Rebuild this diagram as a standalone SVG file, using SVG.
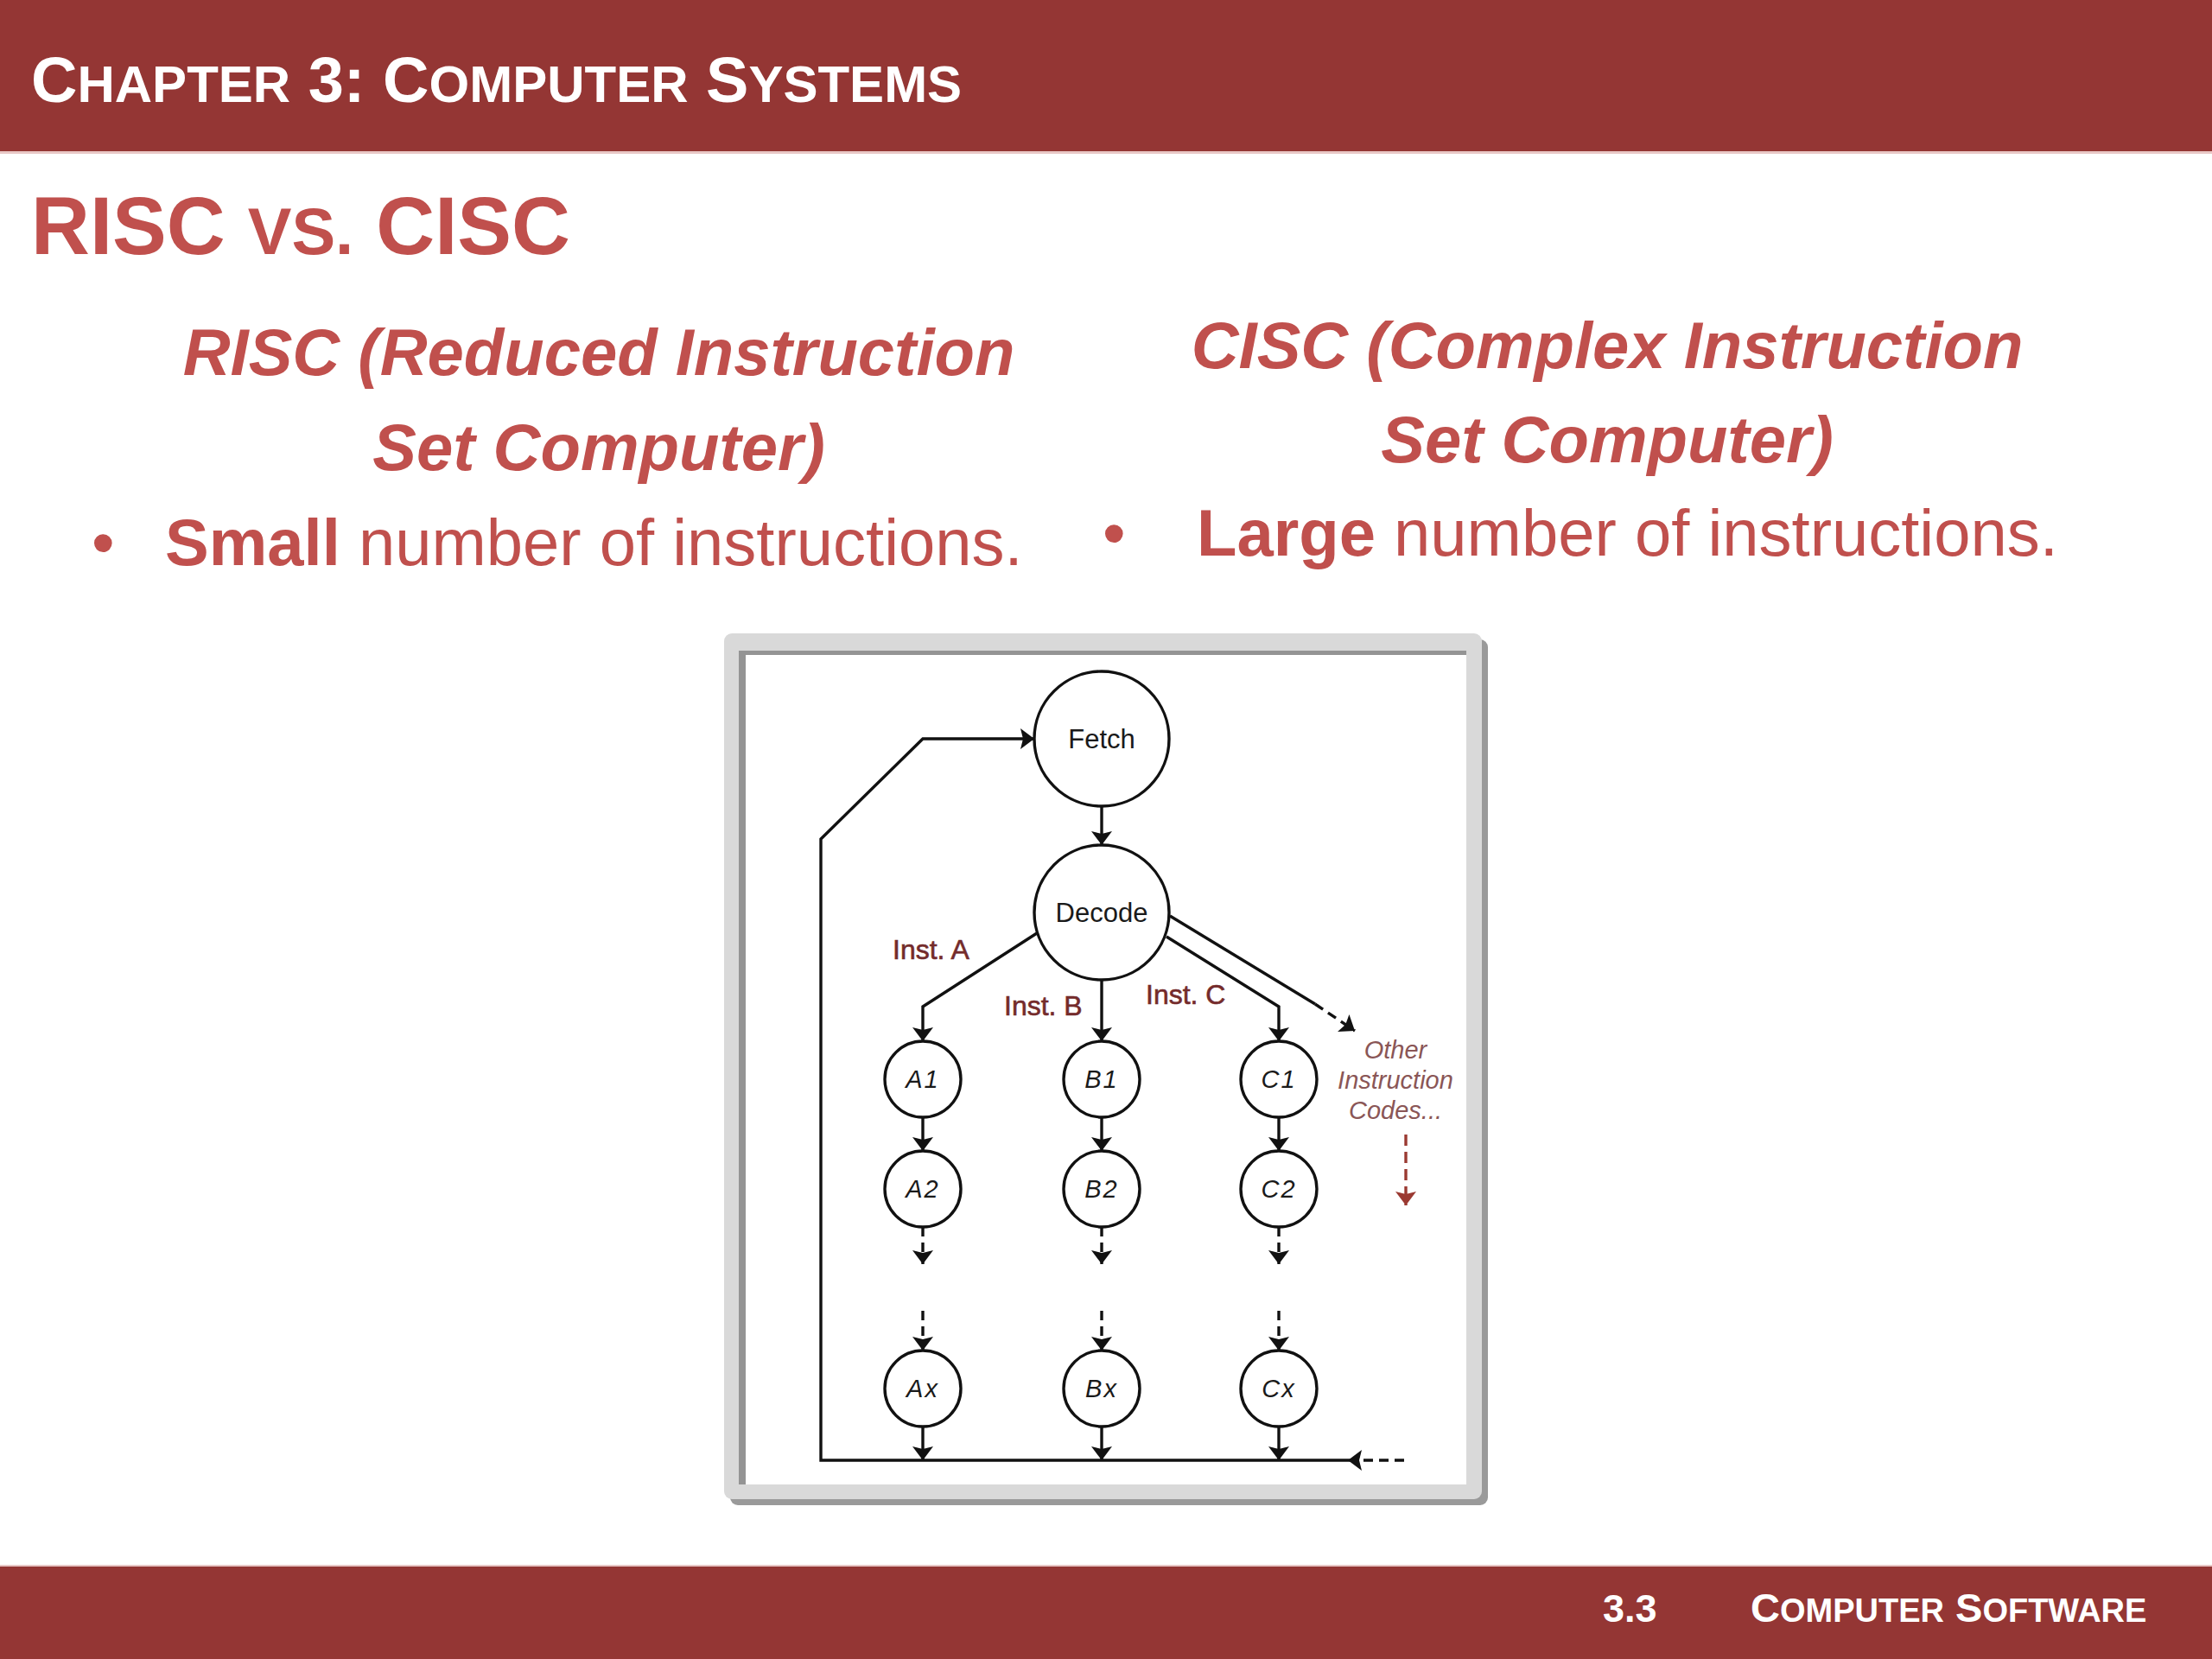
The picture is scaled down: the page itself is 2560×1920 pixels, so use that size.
<svg xmlns="http://www.w3.org/2000/svg" width="2560" height="1920" viewBox="0 0 2560 1920">
<defs>
<style>
.band{fill:#943634}
.hdr{font-family:"Liberation Sans",Arial,sans-serif;font-weight:bold;fill:#ffffff}
.red{font-family:"Liberation Sans",Arial,sans-serif;fill:#C0504D}
.hd{font-weight:bold;font-style:italic;font-size:76px}
.node circle{fill:#ffffff;stroke:#111;stroke-width:3.4}
.nt{font-family:"Liberation Sans",Arial,sans-serif;font-size:31px;fill:#1a1a1a;text-anchor:middle}
.ni{font-family:"Liberation Sans",Arial,sans-serif;font-size:29px;font-style:italic;fill:#1a1a1a;text-anchor:middle;letter-spacing:2px}
.lbl{font-family:"Liberation Sans",Arial,sans-serif;font-size:32px;fill:#742b2b;stroke:#742b2b;stroke-width:0.6}
.oth{font-family:"Liberation Sans",Arial,sans-serif;font-size:29px;font-style:italic;fill:#8a5656;text-anchor:middle}
.ln{fill:none;stroke:#111;stroke-width:3.4}
.dash{stroke-dasharray:11 7}
</style>
<marker id="ah" viewBox="0 0 16 24" refX="16" refY="12" markerWidth="16" markerHeight="24" markerUnits="userSpaceOnUse" orient="auto"><path d="M0,0 L16,12 L0,24 L3,12 Z" fill="#111"/></marker>
<marker id="ahr" viewBox="0 0 16 24" refX="16" refY="12" markerWidth="16" markerHeight="24" markerUnits="userSpaceOnUse" orient="auto"><path d="M0,0 L16,12 L0,24 L3,12 Z" fill="#9b3a32"/></marker>
</defs>
<rect width="2560" height="1920" fill="#ffffff"/>
<g id="header">
<rect class="band" x="0" y="0" width="2560" height="175"/>
<rect x="0" y="175" width="2560" height="3" fill="#e8c8c6"/>
<text class="hdr" x="36" y="118" font-size="74">C<tspan font-size="60">HAPTER</tspan> 3: C<tspan font-size="60">OMPUTER</tspan> S<tspan font-size="60">YSTEMS</tspan></text>
</g>
<g id="title">
<text class="red" x="36" y="294" font-size="94" font-weight="bold">RISC <tspan font-size="76">VS.</tspan> CISC</text>
</g>
<g id="risc">
<text class="red hd" x="693" y="434" text-anchor="middle">RISC (Reduced Instruction</text>
<text class="red hd" x="693" y="544" text-anchor="middle">Set Computer)</text>
<text class="red" x="106" y="654" font-size="76">•</text>
<text class="red" x="191" y="654" font-size="76"><tspan font-weight="bold">Small</tspan> number of instructions.</text>
</g>
<g id="cisc">
<text class="red hd" x="1860" y="426" text-anchor="middle">CISC (Complex Instruction</text>
<text class="red hd" x="1860" y="535" text-anchor="middle">Set Computer)</text>
<text class="red" x="1276" y="643" font-size="76">•</text>
<text class="red" x="1385" y="643" font-size="76"><tspan font-weight="bold">Large</tspan> number of instructions.</text>
</g>
<g id="frame">
<rect x="845" y="740" width="877" height="1002" rx="9" fill="#9a9a9a"/>
<rect x="838" y="733" width="877" height="1002" rx="9" fill="#d9d9d9"/>
<rect x="855" y="753" width="842" height="965" fill="#949494"/>
<rect x="863" y="758" width="834" height="960" fill="#ffffff"/>
</g>
<g id="connectors">
<path class="ln" d="M1275,933 L1275,978" marker-end="url(#ah)"/>
<path class="ln" d="M1200,1080 L1068,1165 L1068,1205" marker-end="url(#ah)"/>
<path class="ln" d="M1275,1134 L1275,1205" marker-end="url(#ah)"/>
<path class="ln" d="M1350,1084 L1480,1165 L1480,1205" marker-end="url(#ah)"/>
<path class="ln" d="M1354,1060 L1522,1162"/>
<path class="ln dash" d="M1522,1162 L1568,1193" marker-end="url(#ah)"/>
<path class="ln" d="M1068,1293 L1068,1332" marker-end="url(#ah)"/>
<path class="ln" d="M1275,1293 L1275,1332" marker-end="url(#ah)"/>
<path class="ln" d="M1480,1293 L1480,1332" marker-end="url(#ah)"/>
<path class="ln dash" d="M1068,1420 L1068,1463" marker-end="url(#ah)"/>
<path class="ln dash" d="M1275,1420 L1275,1463" marker-end="url(#ah)"/>
<path class="ln dash" d="M1480,1420 L1480,1463" marker-end="url(#ah)"/>
<path class="ln dash" d="M1068,1517 L1068,1563" marker-end="url(#ah)"/>
<path class="ln dash" d="M1275,1517 L1275,1563" marker-end="url(#ah)"/>
<path class="ln dash" d="M1480,1517 L1480,1563" marker-end="url(#ah)"/>
<path class="ln" d="M1068,1651 L1068,1690" marker-end="url(#ah)"/>
<path class="ln" d="M1275,1651 L1275,1690" marker-end="url(#ah)"/>
<path class="ln" d="M1480,1651 L1480,1690" marker-end="url(#ah)"/>
<path class="ln dash" d="M1625,1690 L1560,1690" marker-end="url(#ah)"/>
<path class="ln" d="M1560,1690 L950,1690 L950,971 L1068,855 L1197,855" marker-end="url(#ah)"/>
<path class="ln" d="M1627,1313 L1627,1395" stroke-dasharray="13 7" style="stroke:#9b3a32" marker-end="url(#ahr)"/>
<text class="lbl" x="1033" y="1110">Inst. A</text>
<text class="lbl" x="1162" y="1175">Inst. B</text>
<text class="lbl" x="1326" y="1162">Inst. C</text>
</g>
<g id="other-codes">
<text class="oth" x="1615" y="1225">Other</text>
<text class="oth" x="1615" y="1260">Instruction</text>
<text class="oth" x="1615" y="1295">Codes...</text>
</g>
<g id="fetch" class="node"><circle cx="1275" cy="855" r="78"/><text class="nt" x="1275" y="866">Fetch</text></g>
<g id="decode" class="node"><circle cx="1275" cy="1056" r="78"/><text class="nt" x="1275" y="1067">Decode</text></g>
<g id="a1" class="node"><circle cx="1068" cy="1249" r="44"/><text class="ni" x="1068" y="1259">A1</text></g>
<g id="b1" class="node"><circle cx="1275" cy="1249" r="44"/><text class="ni" x="1275" y="1259">B1</text></g>
<g id="c1" class="node"><circle cx="1480" cy="1249" r="44"/><text class="ni" x="1480" y="1259">C1</text></g>
<g id="a2" class="node"><circle cx="1068" cy="1376" r="44"/><text class="ni" x="1068" y="1386">A2</text></g>
<g id="b2" class="node"><circle cx="1275" cy="1376" r="44"/><text class="ni" x="1275" y="1386">B2</text></g>
<g id="c2" class="node"><circle cx="1480" cy="1376" r="44"/><text class="ni" x="1480" y="1386">C2</text></g>
<g id="ax" class="node"><circle cx="1068" cy="1607" r="44"/><text class="ni" x="1068" y="1617">Ax</text></g>
<g id="bx" class="node"><circle cx="1275" cy="1607" r="44"/><text class="ni" x="1275" y="1617">Bx</text></g>
<g id="cx" class="node"><circle cx="1480" cy="1607" r="44"/><text class="ni" x="1480" y="1617">Cx</text></g>
<g id="footer">
<rect x="0" y="1811" width="2560" height="3" fill="#e8c8c6"/>
<rect class="band" x="0" y="1813" width="2560" height="107"/>
<text class="hdr" x="1855" y="1877" font-size="45">3.3</text>
<text class="hdr" x="2026" y="1877" font-size="47">C<tspan font-size="38">OMPUTER</tspan> S<tspan font-size="38">OFTWARE</tspan></text>
</g>
</svg>
